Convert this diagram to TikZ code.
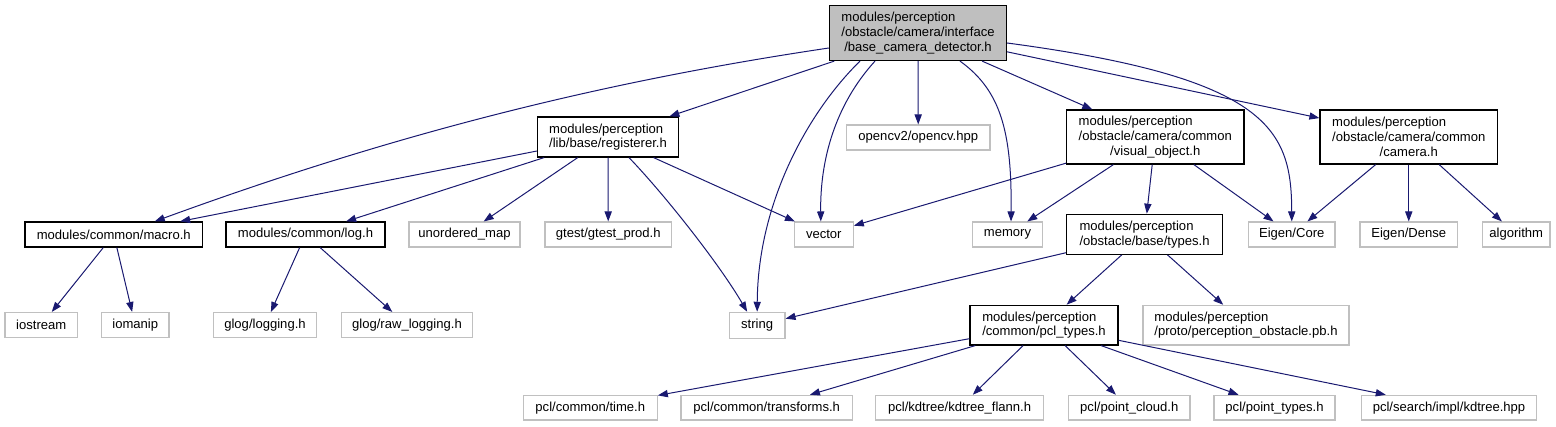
\documentclass[tikz,border=0pt]{standalone}
\usepackage{fontspec}
\setmainfont{Liberation Sans}
\usetikzlibrary{arrows.meta,calc}
\definecolor{edgeblue}{HTML}{191970}
\definecolor{boxgray}{HTML}{BFBFBF}
\definecolor{lightframe}{HTML}{C0C0C0}
\tikzset{
  filebox/.style={draw=black, line width=0.9pt, fill=white, inner sep=0pt, align=left},
  extbox/.style={draw=lightframe, line width=0.8pt, fill=white, inner sep=0pt, align=center},
  mainbox/.style={draw=black, line width=0.9pt, fill=boxgray, inner sep=0pt, align=center},
  edge/.style={draw=edgeblue, line width=0.75pt, -{Triangle[length=7.5pt,width=5.4pt]}, edgeblue},
}
\newcommand\bx[7]{\node[#2, minimum width={(#5-#3)*0.75pt}, minimum height={(#6-#4)*0.75pt}] (#1) at ({(#3+#5)/2},{(#4+#6)/2}) {#7};}
\begin{document}
\begin{tikzpicture}[x=0.75pt, y=-0.75pt, font=\fontsize{9.8}{11}\selectfont]
\useasboundingbox (0,0) rectangle (1556,427);
% row 1
\bx{main}{mainbox}{829.5}{5.5}{1006.5}{60.5}{\rlap{modules/perception}\phantom{/obstacle/camera/interface}\\/obstacle/camera/interface\\/base\_camera\_detector.h}
% row 2
\bx{reg}{filebox}{537.5}{117}{678.5}{157}{modules/perception\\/lib/base/registerer.h}
\bx{ocv}{extbox}{846.5}{125}{990}{150}{opencv2/opencv.hpp}
\bx{vis}{filebox,align=center}{1066.5}{110}{1244}{164}{\rlap{modules/perception}\phantom{/obstacle/camera/common}\\/obstacle/camera/common\\/visual\_object.h}
\bx{cam}{filebox,align=center}{1320}{110}{1497.5}{164}{\rlap{modules/perception}\phantom{/obstacle/camera/common}\\/obstacle/camera/common\\/camera.h}
% row 3
\bx{macro}{filebox}{25}{222}{202.5}{247}{modules/common/macro.h}
\bx{log}{filebox}{226}{222}{385}{247}{modules/common/log.h}
\bx{umap}{extbox}{409}{222}{520}{247}{unordered\_map}
\bx{gtest}{extbox}{545}{222}{671.5}{247}{gtest/gtest\_prod.h}
\bx{vec}{extbox}{794.3}{222}{853.3}{247}{vector}
\bx{mem}{extbox}{972.5}{222}{1042.5}{247}{memory}
\bx{types}{filebox}{1066.5}{214.3}{1222.5}{254.3}{modules/perception\\/obstacle/base/types.h}
\bx{eig}{extbox}{1248.5}{222}{1335}{247}{Eigen/Core}
\bx{dense}{extbox}{1360}{222}{1457.5}{247}{Eigen/Dense}
\bx{algo}{extbox}{1482.5}{222}{1550}{247}{algorithm}
% row 4
\bx{ios}{extbox}{5}{312.5}{77.5}{337.7}{iostream}
\bx{iom}{extbox}{101.5}{312.5}{169}{337.7}{iomanip}
\bx{glog}{extbox}{213.5}{312.5}{316.5}{337.7}{glog/logging.h}
\bx{rawlog}{extbox}{341.5}{312.5}{472.5}{337.7}{glog/raw\_logging.h}
\bx{str}{extbox}{729.3}{312.3}{785}{338.3}{string}
\bx{pcl}{filebox}{970}{305.3}{1118}{345}{modules/perception\\/common/pcl\_types.h}
\bx{pb}{extbox,align=left}{1143}{305.3}{1349}{345}{modules/perception\\/proto/perception\_obstacle.pb.h}
% row 5
\bx{time}{extbox}{523.3}{395.3}{657.3}{420}{pcl/common/time.h}
\bx{trans}{extbox}{681}{395.3}{852.3}{420}{pcl/common/transforms.h}
\bx{flann}{extbox}{875.7}{395.3}{1043.5}{420}{pcl/kdtree/kdtree\_flann.h}
\bx{cloud}{extbox}{1068.5}{395.3}{1190}{420}{pcl/point\_cloud.h}
\bx{ptypes}{extbox}{1214}{395.3}{1335}{420}{pcl/point\_types.h}
\bx{kdhpp}{extbox}{1361.5}{395.3}{1536.5}{420}{pcl/search/impl/kdtree.hpp}
% edges from main
\draw[edge] ($(main.west)+(0,15)$) .. controls (600,82) and (394,134) .. ($(macro.north)+(41,0)$);
\draw[edge] (main) -- (reg);
\draw[edge] ($(main.south)+(-58,0)$) .. controls (810,110) and (758,200) .. (str.north);
\draw[edge] ($(main.south)+(-43,0)$) .. controls (835,105) and (820,160) .. ($(vec.north)+(-3,0)$);
\draw[edge] (main) -- (ocv);
\draw[edge] ($(main.south)+(42,0)$) .. controls (1000,90) and (1012,130) .. ($(mem.north)+(3.5,0)$);
\draw[edge] (main) -- (vis);
\draw[edge] (main) -- (cam);
\draw[edge] ($(main.east)+(0,10)$) .. controls (1270,78) and (1291.5,130) .. (eig.north);
% edges from registerer
\draw[edge] (reg) -- (macro);
\draw[edge] (reg) -- (log);
\draw[edge] (reg) -- (umap);
\draw[edge] (reg) -- (gtest);
\draw[edge] ($(reg.south)+(21,0)$) .. controls (665,195) and (720,265) .. ($(str.north)+(-10,0)$);
\draw[edge] (reg) -- (vec);
% edges from visual_object
\draw[edge] (vis) -- (vec);
\draw[edge] (vis) -- (mem);
\draw[edge] (vis) -- (types);
\draw[edge] (vis) -- (eig);
% edges from camera
\draw[edge] (cam) -- (eig);
\draw[edge] (cam) -- (dense);
\draw[edge] (cam) -- (algo);
% edges from macro and log
\draw[edge] (macro) -- (ios);
\draw[edge] (macro) -- (iom);
\draw[edge] (log) -- (glog);
\draw[edge] (log) -- (rawlog);
% edges from types
\draw[edge] (types) -- (str);
\draw[edge] (types) -- (pcl);
\draw[edge] (types) -- (pb);
% edges from pcl_types
\draw[edge] (pcl) -- (time);
\draw[edge] (pcl) -- (trans);
\draw[edge] (pcl) -- (flann);
\draw[edge] (pcl) -- (cloud);
\draw[edge] (pcl) -- (ptypes);
\draw[edge] (pcl) -- (kdhpp);
\end{tikzpicture}
\end{document}
